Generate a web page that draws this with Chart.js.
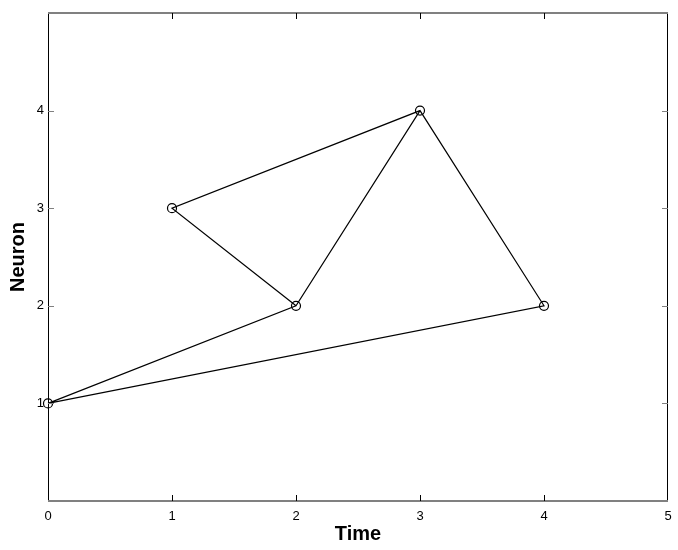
<!DOCTYPE html>
<html lang="en">
<head>
<meta charset="UTF-8">
<title>Neuron vs Time</title>
<script src="https://cdn.jsdelivr.net/npm/chart.js@4.4.0/dist/chart.umd.min.js"></script>
<style>
  html, body { margin: 0; padding: 0; background: #fff; }
  #wrap { width: 678px; height: 550px; }
</style>
</head>
<body>
<div id="wrap"><canvas id="chart" width="678" height="550"></canvas></div>
<script>
// path through the firing events (time, neuron)
const pathTime   = [2, 1, 3, 4, 0, 2, 3];
const pathNeuron = [2, 3, 4, 2, 1, 2, 4];
// one marker per event
const eventTime   = [0, 1, 2, 3, 4];
const eventNeuron = [1, 3, 2, 4, 2];
const xTickLabels = [0, 1, 2, 3, 4, 5];
const yTickLabels = [1, 2, 3, 4];

const pathPts = pathTime.map((t, i) => ({ x: t, y: pathNeuron[i] }));
const eventPts = eventTime.map((t, i) => ({ x: t, y: eventNeuron[i] }));

// box + inward ticks, matlab style
const framePlugin = {
  id: 'frame',
  afterDatasetsDraw(chart) {
    const { ctx, chartArea: a, scales } = chart;
    const len = 6;
    ctx.save();
    ctx.lineWidth = 1;
    ctx.strokeStyle = '#000';
    ctx.beginPath();
    ctx.moveTo(a.left + 0.5, a.top); ctx.lineTo(a.left + 0.5, a.bottom);
    ctx.moveTo(a.right - 0.5, a.top); ctx.lineTo(a.right - 0.5, a.bottom);
    ctx.stroke();
    ctx.strokeStyle = '#808080';
    ctx.lineWidth = 2;
    ctx.beginPath();
    ctx.moveTo(a.left, a.top); ctx.lineTo(a.right, a.top);
    ctx.moveTo(a.left, a.bottom); ctx.lineTo(a.right, a.bottom);
    ctx.stroke();
    ctx.lineWidth = 1;
    ctx.strokeStyle = '#000';
    ctx.beginPath();
    xTickLabels.slice(1, -1).forEach(v => {
      const x = Math.round(scales.x.getPixelForValue(v)) + 0.5;
      ctx.moveTo(x, a.bottom); ctx.lineTo(x, a.bottom - len);
      ctx.moveTo(x, a.top); ctx.lineTo(x, a.top + len);
    });
    ctx.stroke();
    ctx.strokeStyle = '#808080';
    ctx.beginPath();
    yTickLabels.forEach(v => {
      const y = Math.round(scales.y.getPixelForValue(v)) + 0.5;
      ctx.moveTo(a.left, y); ctx.lineTo(a.left + len, y);
      ctx.moveTo(a.right, y); ctx.lineTo(a.right - len, y);
    });
    ctx.stroke();
    ctx.restore();
  }
};

const tickFont = { family: 'Liberation Sans, Arial, sans-serif', size: 13 };
const titleFont = { family: 'Liberation Sans, Arial, sans-serif', size: 20, weight: 'bold' };

new Chart(document.getElementById('chart'), {
  type: 'scatter',
  data: {
    datasets: [
      {
        data: pathPts,
        showLine: true,
        borderColor: '#000',
        borderWidth: 1.2,
        pointRadius: 0,
        fill: false
      },
      {
        data: eventPts,
        showLine: false,
        pointStyle: 'circle',
        pointRadius: 4.5,
        borderWidth: 1.2,
        borderColor: '#000',
        backgroundColor: 'rgba(0,0,0,0)'
      }
    ]
  },
  options: {
    responsive: false,
    animation: false,
    clip: false,
    layout: { padding: { left: 0, right: 10, top: 13, bottom: 0 } },
    plugins: { legend: { display: false }, tooltip: { enabled: false } },
    scales: {
      x: {
        type: 'linear',
        min: 0, max: 5,
        grid: { display: false, drawTicks: false },
        border: { display: false },
        afterFit(s) { s.height = 49; s.paddingLeft = 0; s.paddingRight = 0; },
        afterBuildTicks(s) { s.ticks = xTickLabels.map(v => ({ value: v })); },
        ticks: { padding: 8, color: '#000', font: tickFont, maxRotation: 0 },
        title: {
          display: true,
          text: 'Time',
          color: '#000',
          font: titleFont,
          padding: { top: 0, bottom: 4 }
        }
      },
      y: {
        type: 'linear',
        min: 0, max: 5,
        grid: { display: false, drawTicks: false },
        border: { display: false },
        afterFit(s) { s.width = 48; s.paddingTop = 0; s.paddingBottom = 0; },
        afterBuildTicks(s) { s.ticks = yTickLabels.map(v => ({ value: v })); },
        ticks: { padding: 4, color: '#000', font: tickFont },
        title: {
          display: true,
          text: 'Neuron',
          color: '#000',
          font: titleFont,
          padding: { top: 6, bottom: 0 }
        }
      }
    }
  },
  plugins: [framePlugin]
});
</script>
</body>
</html>
